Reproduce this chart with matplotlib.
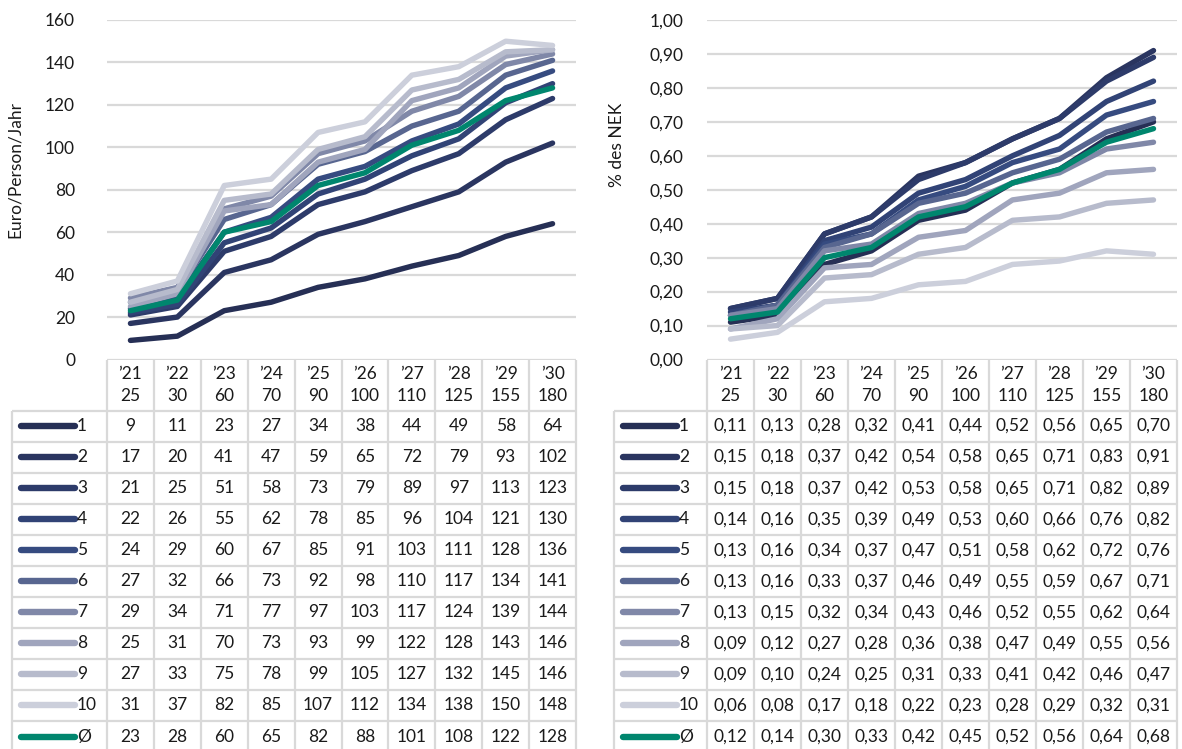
import matplotlib
matplotlib.use("Agg")
import matplotlib.pyplot as plt
from matplotlib.ticker import FuncFormatter

plt.rcParams['font.family'] = ['Lato', 'DejaVu Sans']

# ---------------- data ----------------
years = ["\u201921", "\u201922", "\u201923", "\u201924", "\u201925",
         "\u201926", "\u201927", "\u201928", "\u201929", "\u201930"]
prices = ["25", "30", "60", "70", "90", "100", "110", "125", "155", "180"]
series_names = ["1", "2", "3", "4", "5", "6", "7", "8", "9", "10", "\u00d8"]

euro_1 = [9, 11, 23, 27, 34, 38, 44, 49, 58, 64]
euro_2 = [17, 20, 41, 47, 59, 65, 72, 79, 93, 102]
euro_3 = [21, 25, 51, 58, 73, 79, 89, 97, 113, 123]
euro_4 = [22, 26, 55, 62, 78, 85, 96, 104, 121, 130]
euro_5 = [24, 29, 60, 67, 85, 91, 103, 111, 128, 136]
euro_6 = [27, 32, 66, 73, 92, 98, 110, 117, 134, 141]
euro_7 = [29, 34, 71, 77, 97, 103, 117, 124, 139, 144]
euro_8 = [25, 31, 70, 73, 93, 99, 122, 128, 143, 146]
euro_9 = [27, 33, 75, 78, 99, 105, 127, 132, 145, 146]
euro_10 = [31, 37, 82, 85, 107, 112, 134, 138, 150, 148]
euro_avg = [23, 28, 60, 65, 82, 88, 101, 108, 122, 128]

nek_1 = [0.11, 0.13, 0.28, 0.32, 0.41, 0.44, 0.52, 0.56, 0.65, 0.70]
nek_2 = [0.15, 0.18, 0.37, 0.42, 0.54, 0.58, 0.65, 0.71, 0.83, 0.91]
nek_3 = [0.15, 0.18, 0.37, 0.42, 0.53, 0.58, 0.65, 0.71, 0.82, 0.89]
nek_4 = [0.14, 0.16, 0.35, 0.39, 0.49, 0.53, 0.60, 0.66, 0.76, 0.82]
nek_5 = [0.13, 0.16, 0.34, 0.37, 0.47, 0.51, 0.58, 0.62, 0.72, 0.76]
nek_6 = [0.13, 0.16, 0.33, 0.37, 0.46, 0.49, 0.55, 0.59, 0.67, 0.71]
nek_7 = [0.13, 0.15, 0.32, 0.34, 0.43, 0.46, 0.52, 0.55, 0.62, 0.64]
nek_8 = [0.09, 0.12, 0.27, 0.28, 0.36, 0.38, 0.47, 0.49, 0.55, 0.56]
nek_9 = [0.09, 0.10, 0.24, 0.25, 0.31, 0.33, 0.41, 0.42, 0.46, 0.47]
nek_10 = [0.06, 0.08, 0.17, 0.18, 0.22, 0.23, 0.28, 0.29, 0.32, 0.31]
nek_avg = [0.12, 0.14, 0.30, 0.33, 0.42, 0.45, 0.52, 0.56, 0.64, 0.68]

euro_series = [euro_1, euro_2, euro_3, euro_4, euro_5, euro_6, euro_7,
               euro_8, euro_9, euro_10, euro_avg]
nek_series = [nek_1, nek_2, nek_3, nek_4, nek_5, nek_6, nek_7,
              nek_8, nek_9, nek_10, nek_avg]

colors = ['#262f55', '#2a3560', '#2d3b6a', '#314376', '#364b80', '#586690',
          '#8088a8', '#a0a5bd', '#b7bbcc', '#cccfdb', '#00866e']

# ---------------- layout ----------------
W, H = 1182, 749
fig = plt.figure(figsize=(W / 100, H / 100), dpi=100)
GRID = '#d9d9d9'
TXT = '#1a1a1a'
FS = 12.5

y_top, y_zero = 20, 359.5
row_top, row_h = 410.5, 31.05

panels = [
    dict(xl=12, xh=107, xr=576, data=euro_series, ylim=(0, 160), step=20,
         fmt=lambda v, p: f"{v:.0f}", cell=lambda v: f"{v:d}",
         ylabel="Euro/Person/Jahr", ylab_x=15, ylab_y=170, pad=23),
    dict(xl=614, xh=707, xr=1177, data=nek_series, ylim=(0, 1.0), step=0.1,
         fmt=lambda v, p: f"{v:.2f}".replace('.', ','),
         cell=lambda v: f"{v:.2f}".replace('.', ','),
         ylabel="% des NEK", ylab_x=617, ylab_y=145, pad=17),
]

# overlay axes in pixel coordinates for the tables
tab = fig.add_axes([0, 0, 1, 1], zorder=0)
tab.set_xlim(0, W)
tab.set_ylim(H, 0)
tab.axis('off')

for P in panels:
    xl, xh, xr = P['xl'], P['xh'], P['xr']
    ax = fig.add_axes([xh / W, 1 - y_zero / H, (xr - xh) / W, (y_zero - y_top) / H],
                      zorder=2)
    ax.patch.set_alpha(0)
    x = list(range(len(years)))
    for i in range(len(series_names)):
        ax.plot(x, P['data'][i], color=colors[i], lw=3.9,
                solid_capstyle='round', solid_joinstyle='round', zorder=3 + i)
    ax.set_xlim(-0.5, len(years) - 0.5)
    lo, hi = P['ylim']
    ax.set_ylim(lo, hi)
    n = int(round((hi - lo) / P['step']))
    ax.set_yticks([lo + k * P['step'] for k in range(n + 1)])
    ax.yaxis.set_major_formatter(FuncFormatter(P['fmt']))
    ax.grid(axis='y', color=GRID, lw=1.6, zorder=0)
    ax.set_xticks([])
    ax.tick_params(axis='y', length=0, pad=P['pad'], labelsize=FS, labelcolor=TXT)
    for s in ax.spines.values():
        s.set_visible(False)
    fig.text(P['ylab_x'] / W, 1 - P['ylab_y'] / H, P['ylabel'], rotation=90,
             ha='center', va='center', fontsize=FS, color=TXT)

    # table
    ncol = len(years)
    cw = (xr - xh) / ncol
    lw_t = 1.6
    for k in range(ncol + 1):
        tab.plot([xh + k * cw] * 2, [y_zero, row_top], color=GRID, lw=lw_t,
                 solid_capstyle='butt')
    for k in range(ncol):
        cx = xh + (k + 0.5) * cw
        tab.text(cx, 374, years[k], ha='center', va='center', fontsize=FS, color=TXT)
        tab.text(cx, 396, prices[k], ha='center', va='center', fontsize=FS, color=TXT)
    nrow = len(series_names)
    for r in range(nrow + 1):
        yy = row_top + r * row_h
        tab.plot([xl, xr], [yy, yy], color=GRID, lw=lw_t, solid_capstyle='butt')
    for xv in [xl] + [xh + k * cw for k in range(ncol + 1)]:
        tab.plot([xv, xv], [row_top, H + 5], color=GRID, lw=lw_t,
                 solid_capstyle='butt')
    for r in range(nrow):
        cy = row_top + (r + 0.5) * row_h
        tab.plot([xl + 9, xl + 63], [cy, cy], color=colors[r], lw=4.6,
                 solid_capstyle='round')
        tab.text(xl + 65, cy, series_names[r], ha='left', va='center',
                 fontsize=FS, color=TXT)
        for k in range(ncol):
            cx = xh + (k + 0.5) * cw
            tab.text(cx, cy, P['cell'](P['data'][r][k]), ha='center', va='center',
                     fontsize=FS, color=TXT)

fig.savefig('out.png', dpi=100)
